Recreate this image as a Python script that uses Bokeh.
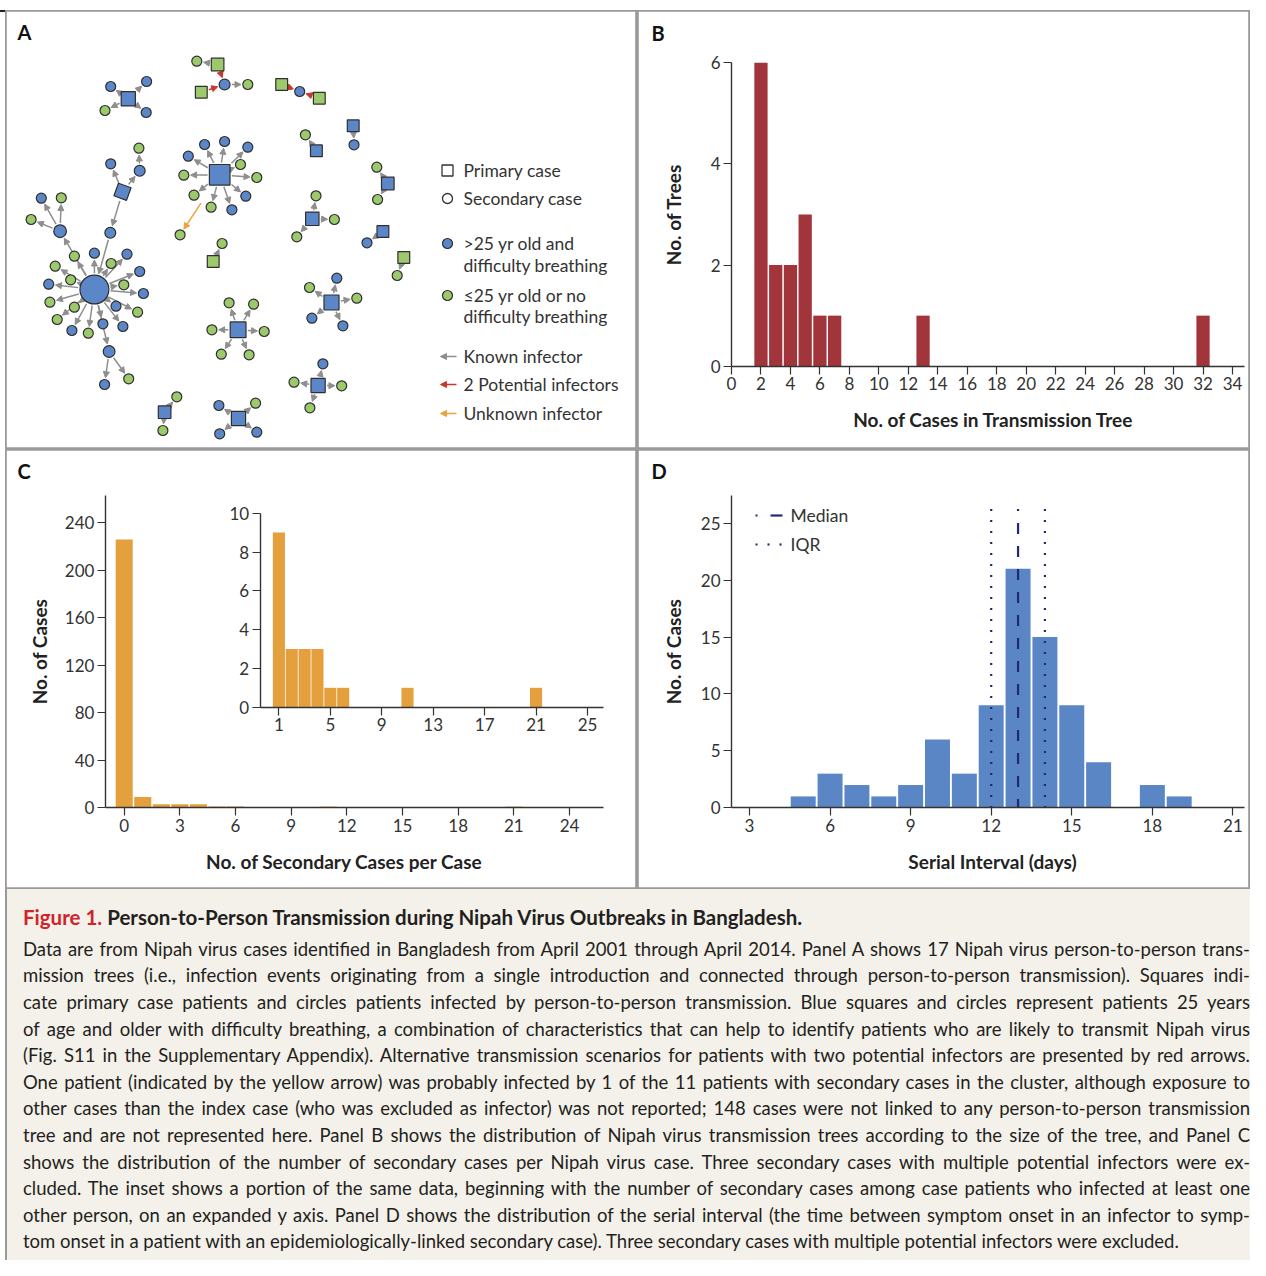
import math
from bokeh.plotting import figure
from bokeh.models import (Range1d, LinearAxis, FixedTicker, Arrow, NormalHead,
                          ColumnDataSource, Div, Spacer)
from bokeh.layouts import column, row
from bokeh.core.properties import value
from bokeh.embed import file_html
from bokeh.resources import INLINE

FONT = "Lato"

# ------------------------------------------------------------------ data
# Panel A: transmission trees (node positions)
node_x = [127.8, 110.2, 146.1, 104.5, 145.7, 217.1, 196.3, 224.1, 200.8, 247.3,
          281.2, 299.2, 318.8, 315.9, 304.9, 352.7, 353.5, 387.3, 376.3, 377.1,
          311.8, 315.5, 333.9, 296.3, 382.4, 366.5, 403.3, 396.7, 212.7, 221.6,
          219.2, 204.1, 224.1, 247.3, 187.8, 240.0, 183.3, 256.3, 193.5, 245.3,
          210.6, 231.4, 179.6, 93.9, 122.0, 110.2, 139.2, 138.4, 109.8, 59.6,
          40.8, 60.8, 30.6, 73.9, 93.9, 110.6, 126.5, 54.7, 70.2, 48.2,
          123.3, 139.2, 142.9, 49.4, 73.9, 115.5, 137.1, 56.7, 71.4, 87.8,
          102.4, 122.4, 108.6, 104.1, 128.2, 237.6, 228.6, 253.1, 211.4, 263.7,
          220.8, 248.6, 331.0, 336.3, 309.0, 356.3, 311.4, 342.4, 317.6, 322.4,
          293.5, 341.2, 309.4, 164.1, 176.3, 162.4, 238.0, 218.4, 255.1, 219.2,
          256.3]
node_y = [98.3, 86.0, 81.0, 110.0, 112.0, 64.0, 60.7, 84.0, 91.7, 84.0,
          84.0, 91.0, 97.7, 150.3, 134.3, 125.3, 144.3, 183.0, 166.7, 199.0,
          218.3, 195.3, 219.0, 236.3, 231.0, 242.3, 257.0, 275.0, 261.0, 243.0,
          174.3, 144.0, 141.0, 146.7, 155.7, 164.0, 174.7, 177.0, 194.7, 195.7,
          206.7, 209.3, 234.3, 289.0, 191.3, 163.3, 170.3, 147.7, 232.3, 230.7,
          197.7, 197.3, 219.0, 255.7, 252.7, 263.0, 253.7, 265.7, 279.3, 283.7,
          284.3, 271.0, 293.0, 301.7, 306.7, 305.7, 311.7, 319.0, 330.0, 332.7,
          323.3, 326.0, 351.0, 384.0, 378.3, 329.3, 302.3, 303.7, 329.3, 331.0,
          353.7, 354.3, 302.0, 277.7, 287.0, 297.7, 317.7, 325.3, 385.0, 363.3,
          381.7, 385.3, 407.3, 411.7, 396.3, 430.0, 418.0, 405.0, 402.7, 433.3,
          431.7]
# s = primary case (square), c = secondary case (circle); ten nodes per chunk
node_shape = list("sccccsccsc" "scsscscscc" "scccscscsc" "sccccccccc" "ccccsccccc"
                  "cccccccccc" "cccccccccc" "cccccscccc" "ccscccccsc" "cccsccsccc" "c")
# b = >25 yr and difficulty breathing, g = <=25 yr or no difficulty breathing
node_group = list("bbbgbggbgg" "gbgbgbbbgg" "bgggbbgggg" "bbbbbggggb" "gbgbbbbgbb"
                  "bgggbgbggb" "gbbggbggbg" "bbbbgbgggg" "ggbbggbbbb" "gggbggbbgb" "b")
tree_links = [
    (0, [1, 2, 3, 4], "known"), (5, [6], "known"), (5, [7], "two"), (8, [7], "two"),
    (7, [9], "known"), (10, [11], "two"), (12, [11], "two"), (13, [14], "known"),
    (15, [16], "known"), (17, [18, 19], "known"), (20, [21, 22, 23], "known"),
    (24, [25], "known"), (26, [27], "known"), (28, [29], "known"),
    (30, [31, 32, 33, 34, 35, 36, 37, 38, 39, 40, 41], "known"), (30, [42], "unknown"),
    (44, [45, 46, 48], "known"), (46, [47], "known"), (48, [43], "known"),
    (43, [49, 53, 54, 55, 56, 57, 58, 59, 60, 61, 62, 63, 64, 65, 66, 67, 68, 69,
          70, 71, 72], "known"),
    (49, [50, 51, 52], "known"), (72, [73, 74], "known"),
    (75, [76, 77, 78, 79, 80, 81], "known"), (82, [83, 84, 85, 86, 87], "known"),
    (88, [89, 90, 91, 92], "known"), (93, [94, 95], "known"),
    (96, [97, 98, 99, 100], "known"),
]
rotated_nodes = {44: -0.35}

# Panel B: size of transmission trees
b_sizes = [2, 3, 4, 5, 6, 7, 13, 32]
b_trees = [6, 2, 2, 3, 1, 1, 1, 1]
b_xticks = [0, 2, 4, 6, 8, 10, 12, 14, 16, 18, 20, 22, 24, 26, 28, 30, 32, 34]
b_yticks = [0, 2, 4, 6]

# Panel C: secondary cases per case
c_secondary = [0, 1, 2, 3, 4, 5, 6, 11, 21]
c_cases = [226, 9, 3, 3, 3, 1, 1, 1, 1]
c_xticks = [0, 3, 6, 9, 12, 15, 18, 21, 24]
c_yticks = [0, 40, 80, 120, 160, 200, 240]
inset_xticks = [1, 5, 9, 13, 17, 21, 25]
inset_yticks = [0, 2, 4, 6, 8, 10]

# Panel D: serial interval
d_days = [5, 6, 7, 8, 9, 10, 11, 12, 13, 14, 15, 16, 18, 19]
d_cases = [1, 3, 2, 1, 2, 6, 3, 9, 21, 15, 9, 4, 2, 1]
d_median = 13
d_q1, d_q3 = 12, 14
d_xticks = [3, 6, 9, 12, 15, 18, 21]
d_yticks = [0, 5, 10, 15, 20, 25]

caption_title = ("Figure 1.", "Person-to-Person Transmission during Nipah Virus Outbreaks in Bangladesh.")
caption_lines = [
    "Data are from Nipah virus cases identified in Bangladesh from April 2001 through April 2014. Panel A shows 17 Nipah virus person-to-person trans-",
    "mission trees (i.e., infection events originating from a single introduction and connected through person-to-person transmission). Squares indi-",
    "cate primary case patients and circles patients infected by person-to-person transmission. Blue squares and circles represent patients 25 years",
    "of age and older with difficulty breathing, a combination of characteristics that can help to identify patients who are likely to transmit Nipah virus",
    "(Fig. S11 in the Supplementary Appendix). Alternative transmission scenarios for patients with two potential infectors are presented by red arrows.",
    "One patient (indicated by the yellow arrow) was probably infected by 1 of the 11 patients with secondary cases in the cluster, although exposure to",
    "other cases than the index case (who was excluded as infector) was not reported; 148 cases were not linked to any person-to-person transmission",
    "tree and are not represented here. Panel B shows the distribution of Nipah virus transmission trees according to the size of the tree, and Panel C",
    "shows the distribution of the number of secondary cases per Nipah virus case. Three secondary cases with multiple potential infectors were ex-",
    "cluded. The inset shows a portion of the same data, beginning with the number of secondary cases among case patients who infected at least one",
    "other person, on an expanded y axis. Panel D shows the distribution of the serial interval (the time between symptom onset in an infector to symp-",
    "tom onset in a patient with an epidemiologically-linked secondary case). Three secondary cases with multiple potential infectors were excluded.",
]

# ------------------------------------------------------------------ style
BLUE = "#5b87c8"
GREEN = "#9cc96b"
NODE_LINE = "#2f2f2f"
ARROW_COL = {"known": "#8e8e8e", "two": "#c9372c", "unknown": "#eba33b"}
BAR_B = "#a1353b"
BAR_C = "#e4a03d"
BAR_D = "#5b86c5"
NAVY = "#1f2a72"
TXT = "#333333"
TITLE_COL = "#222222"
BORDER = "#9a9a9a"
TICK_SIZE = "17px"
AXTITLE_SIZE = "19px"
LEG_SIZE = "17.5px"
LETTER_SIZE = "20px"


def lin_range(pix_start, pix_end, pa, va, pb, vb):
    k = (vb - va) / (pb - pa)
    return Range1d(start=va + (pix_start - pa) * k, end=va + (pix_end - pa) * k)


def make_panel(left, top, w, h, xr, yr):
    p = figure(width=w, height=h, x_range=xr, y_range=yr, title=None,
               x_axis_type=None, y_axis_type=None, toolbar_location=None,
               output_backend="svg", min_border=0,
               outline_line_color=BORDER, outline_line_width=2.6,
               background_fill_color="white", border_fill_color="white")
    p.extra_x_ranges = {"pg": Range1d(left, left + w)}
    p.extra_y_ranges = {"pg": Range1d(top + h, top)}
    return p


def txt(p, x, y, s, size=LEG_SIZE, bold=False, align="left", angle=0.0, color=TXT):
    p.text(x=[x], y=[y], text=[s], x_range_name="pg", y_range_name="pg",
           text_font=value(FONT), text_font_size=size,
           text_font_style="bold" if bold else "normal",
           text_align=align, text_baseline="middle", angle=angle, text_color=color)


def add_axis(p, dim, ticks, loc, bounds, rx="default", ry="default"):
    ax = LinearAxis(ticker=FixedTicker(ticks=ticks), fixed_location=loc, bounds=bounds,
                    x_range_name=rx, y_range_name=ry,
                    axis_line_color=TXT, axis_line_width=1.4,
                    major_tick_line_color=TXT, major_tick_line_width=1.2,
                    major_tick_in=0, major_tick_out=8, minor_tick_in=0, minor_tick_out=0,
                    major_label_standoff=3, major_label_text_font=FONT,
                    major_label_text_font_size=TICK_SIZE, major_label_text_color=TXT)
    p.add_layout(ax, "below" if dim == "x" else "left")


# ------------------------------------------------------------------ panel A
pa = make_panel(5, 10, 632, 439, Range1d(5, 637), Range1d(449, 10))

n = len(node_x)
edges = [(s, d, k) for s, ds, k in tree_links for d in ds]
deg = [0] * n
for s, d, k in edges:
    deg[s] += 1
size = [(11 + 0.8 * deg[i]) if node_shape[i] == "s" else (10 + 0.9 * deg[i]) for i in range(n)]


def eff_r(i, ux, uy):
    h = size[i] / 2 + 0.6
    if node_shape[i] == "s":
        if i in rotated_nodes:
            return h * 1.15
        return h / max(abs(ux), abs(uy))
    return h


for kind in ["known", "two", "unknown"]:
    xs, ys, xe, ye = [], [], [], []
    for s, d, k in edges:
        if k != kind:
            continue
        dx, dy = node_x[d] - node_x[s], node_y[d] - node_y[s]
        L = math.hypot(dx, dy)
        ux, uy = dx / L, dy / L
        st = 34 if k == "unknown" else eff_r(s, ux, uy) + 1.2
        en = eff_r(d, ux, uy) + 1.2
        xs.append(node_x[s] + ux * st); ys.append(node_y[s] + uy * st)
        xe.append(node_x[d] - ux * en); ye.append(node_y[d] - uy * en)
    col = ARROW_COL[kind]
    src = ColumnDataSource(dict(xs=xs, ys=ys, xe=xe, ye=ye))
    pa.add_layout(Arrow(end=NormalHead(size=6, fill_color=col, line_color=col, line_width=1),
                        x_start="xs", y_start="ys", x_end="xe", y_end="ye", source=src,
                        line_color=col, line_width=1.5, level="underlay"))

node_src = ColumnDataSource(dict(
    x=node_x, y=node_y,
    marker=["square" if s == "s" else "circle" for s in node_shape],
    size=size,
    fill=[BLUE if g == "b" else GREEN for g in node_group],
    angle=[rotated_nodes.get(i, 0.0) for i in range(n)],
))
pa.scatter(x="x", y="y", marker="marker", size="size", fill_color="fill", angle="angle",
           line_color=NODE_LINE, line_width=1.2, source=node_src)

# legend of panel A
pa.scatter(x=[447], y=[170], marker="square", size=11, fill_color=None, line_color=TXT, line_width=1.3)
pa.scatter(x=[447], y=[198], marker="circle", size=10, fill_color=None, line_color=TXT, line_width=1.3)
pa.scatter(x=[447, 447], y=[243, 295], marker="circle", size=10, fill_color=[BLUE, GREEN],
           line_color=NODE_LINE, line_width=1.2)
for yy, kind in [(356, "known"), (384, "two"), (413, "unknown")]:
    col = ARROW_COL[kind]
    pa.add_layout(Arrow(end=NormalHead(size=6, fill_color=col, line_color=col, line_width=1),
                        x_start=456, y_start=yy, x_end=440, y_end=yy,
                        line_color=col, line_width=1.5))
for yy, s in [(170, "Primary case"), (198, "Secondary case"), (243, ">25 yr old and"),
              (265, "difficulty breathing"), (295, "\u226425 yr old or no"),
              (316, "difficulty breathing"), (356, "Known infector"),
              (384, "2 Potential infectors"), (413, "Unknown infector")]:
    txt(pa, 463, yy, s)
txt(pa, 17, 31, "A", size=LETTER_SIZE, bold=True, color="#111")

# ------------------------------------------------------------------ panel B
pb = make_panel(637, 10, 613, 439,
                lin_range(637, 1250, 731, 0, 1232, 34),
                lin_range(449, 10, 365.7, 0, 62.3, 6))
pb.vbar(x=b_sizes, top=b_trees, bottom=0, width=0.9, fill_color=BAR_B, line_color=None)
add_axis(pb, "x", b_xticks, 0, (0, 34.8))
add_axis(pb, "y", b_yticks, 0, (0, 6))
txt(pb, 651, 32.5, "B", size=LETTER_SIZE, bold=True, color="#111")
txt(pb, 673, 214, "No. of Trees", size=AXTITLE_SIZE, bold=True, align="center", angle=math.pi / 2, color=TITLE_COL)
txt(pb, 993, 419, "No. of Cases in Transmission Tree", size=AXTITLE_SIZE, bold=True, align="center", color=TITLE_COL)

# ------------------------------------------------------------------ panel C
pc = make_panel(5, 449, 632, 440,
                lin_range(5, 637, 123.7, 0, 569, 24),
                lin_range(889, 449, 807.3, 0, 522.3, 240))
pc.extra_x_ranges["ix"] = lin_range(5, 637, 278.4, 1, 587, 25)
pc.extra_y_ranges["iy"] = lin_range(889, 449, 706.7, 0, 512.7, 10)
pc.vbar(x=c_secondary, top=c_cases, bottom=0, width=0.92, fill_color=BAR_C, line_color=None)
add_axis(pc, "x", c_xticks, 0, (-1.013, 25.85))
add_axis(pc, "y", c_yticks, -1.013, (0, 263))
pc.vbar(x=c_secondary[1:], top=c_cases[1:], bottom=0, width=0.94, fill_color=BAR_C,
        line_color=None, x_range_name="ix", y_range_name="iy")
add_axis(pc, "x", inset_xticks, 0, (-0.462, 26.27), rx="ix", ry="iy")
add_axis(pc, "y", inset_yticks, -0.462, (0, 10), rx="ix", ry="iy")
txt(pc, 17, 470.5, "C", size=LETTER_SIZE, bold=True, color="#111")
txt(pc, 39, 651, "No. of Cases", size=AXTITLE_SIZE, bold=True, align="center", angle=math.pi / 2, color=TITLE_COL)
txt(pc, 344, 861, "No. of Secondary Cases per Case", size=AXTITLE_SIZE, bold=True, align="center", color=TITLE_COL)

# ------------------------------------------------------------------ panel D
pd_ = make_panel(637, 449, 613, 440,
                 lin_range(637, 1250, 749, 3, 1232.4, 21),
                 lin_range(889, 449, 807.3, 0, 522.7, 25))
pd_.vbar(x=d_days, top=d_cases, bottom=0, width=0.93, fill_color=BAR_D, line_color=None)
add_axis(pd_, "x", d_xticks, 0, (2.33, 21.44))
add_axis(pd_, "y", d_yticks, 2.33, (0, 27.43))
line_top = 26.25
pd_.segment(x0=[d_q1, d_q3], y0=[line_top, line_top], x1=[d_q1, d_q3], y1=[0, 0],
            line_color=NAVY, line_width=2.2, line_dash="2 9")
pd_.segment(x0=[d_median], y0=[line_top], x1=[d_median], y1=[0],
            line_color=NAVY, line_width=2.2, line_dash="11 12", line_dash_offset=9)
pd_.segment(x0=[755, 770, 755, 767, 779], y0=[515, 515, 544, 544, 544],
            x1=[757, 782, 757, 769, 781], y1=[515, 515, 544, 544, 544],
            line_color=NAVY, line_width=2.2, x_range_name="pg", y_range_name="pg")
txt(pd_, 790, 515, "Median")
txt(pd_, 790, 544, "IQR")
txt(pd_, 651, 470, "D", size=LETTER_SIZE, bold=True, color="#111")
txt(pd_, 673, 651, "No. of Cases", size=AXTITLE_SIZE, bold=True, align="center", angle=math.pi / 2, color=TITLE_COL)
txt(pd_, 992, 861, "Serial Interval (days)", size=AXTITLE_SIZE, bold=True, align="center", color=TITLE_COL)


# ------------------------------------------------------------------ caption
def keep_words(line):
    # hyphenated words are kept on one line so that each printed line stays intact
    return " ".join('<span style="white-space:nowrap;">%s</span>' % w if "-" in w else w
                    for w in line.split(" "))


CAP_W, CAP_H = 1245, 371
parts = ['<div style="position:relative;width:%dpx;height:%dpx;background:#f4f1ea;'
         'border-left:2px solid %s;box-sizing:border-box;font-family:Lato,sans-serif;color:#231f20;'
         'overflow:hidden;">' % (CAP_W, CAP_H, BORDER)]
parts.append('<div style="position:absolute;left:16px;top:14.7px;height:26.6px;line-height:26.6px;'
             'font-size:20.5px;font-weight:bold;white-space:nowrap;">'
             '<span style="color:#d1232a;">%s</span> %s</div>' % caption_title)
for i, line in enumerate(caption_lines):
    last = i == len(caption_lines) - 1
    al = "left" if last else "justify"
    parts.append('<div style="position:absolute;left:16px;top:%.1fpx;width:1227px;height:26.6px;'
                 'line-height:26.6px;font-size:18.5px;hyphens:none;text-align:%s;text-align-last:%s;">%s</div>'
                 % (46.7 + 26.6 * i, al, al, keep_words(line)))
parts.append('</div>')
caption = Div(text="".join(parts), width=CAP_W, height=CAP_H, margin=0)

top_rule = Div(text='<div style="height:3px;"></div><div style="width:1250px;height:2px;background:#222;"></div>',
               width=1250, height=10, margin=0)

layout = column(top_rule,
                row(Spacer(width=5, height=439, margin=0), pa, pb),
                row(Spacer(width=5, height=440, margin=0), pc, pd_),
                row(Spacer(width=5, height=CAP_H, margin=0), caption))
open("out.html", "w").write(file_html(layout, INLINE))
